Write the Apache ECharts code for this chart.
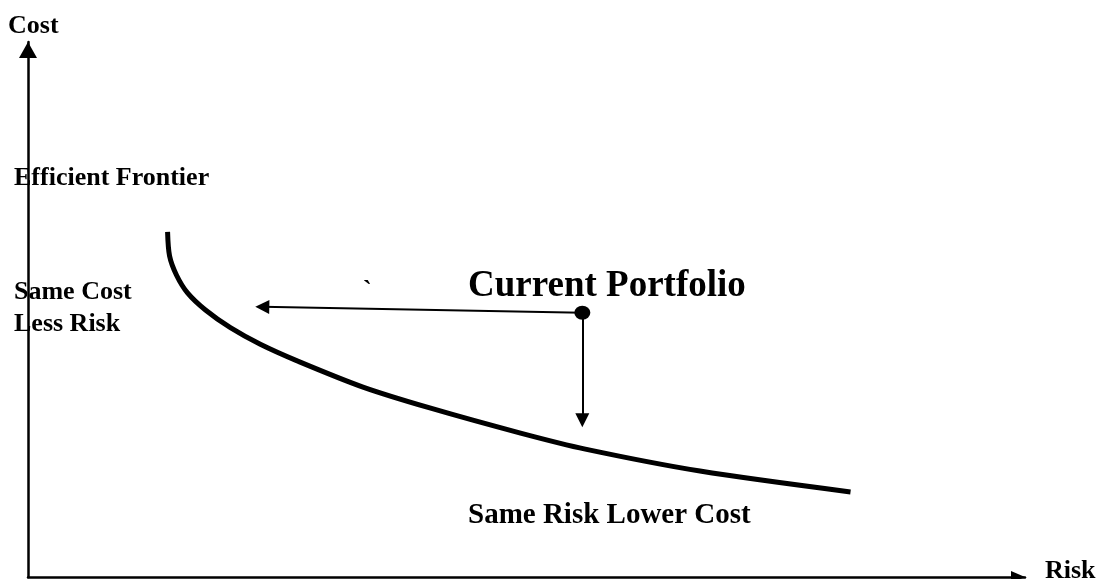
<!DOCTYPE html>
<html>
<head>
<meta charset="utf-8">
<script src="https://cdn.jsdelivr.net/npm/echarts@6/dist/echarts.min.js"></script>
<style>html,body{margin:0;padding:0;background:#fff}#c{width:1100px;height:579px}</style>
</head>
<body>
<div id="c"></div>
<script>
// Efficient frontier curve (risk, cost) in abstract 0-100 units
const frontierRisk = [14.0, 14.2, 14.9, 16.0, 17.8, 20.3, 23.3, 27.0, 33.6, 40.3, 49.4, 55.9, 67.4, 82.5];
const frontierCost = [64.5, 60.0, 56.4, 53.1, 49.9, 46.6, 43.5, 40.4, 35.5, 31.6, 26.9, 23.9, 19.8, 15.9];
// Current portfolio
const portfolio = [55.6, 49.4];
// Arrow targets (arrow-head centres)
const lessRiskTarget = [23.5, 50.5];
const lowerCostTarget = [55.6, 29.3];
// Labels
const axisLabels = { y: 'Cost', x: 'Risk' };
const annotations = ['Efficient Frontier', 'Same Cost', 'Less Risk', 'Current Portfolio', 'Same Risk Lower Cost', '`'];

const chart = echarts.init(document.getElementById('c'), null, { renderer: 'canvas' });
const font = 'Liberation Serif, Times New Roman, serif';
function txt(text, x, y, size) {
  return { type: 'text', left: x, top: y, style: { text: text, font: 'bold ' + size + 'px ' + font, fill: '#000' } };
}
const frontier = frontierRisk.map((r, i) => [r, frontierCost[i]]);

chart.setOption({
  animation: false,
  backgroundColor: '#fff',
  grid: { left: 28, right: 75, top: 42, bottom: 2, containLabel: false },
  xAxis: {
    type: 'value', min: 0, max: 100,
    axisLine: { show: true, onZero: false, symbol: ['none', 'triangle'], symbolSize: [12, 14], symbolOffset: [0, -7], lineStyle: { color: '#000', width: 2.5 } },
    axisTick: { show: false }, axisLabel: { show: false }, splitLine: { show: false }
  },
  yAxis: {
    type: 'value', min: 0, max: 100,
    axisLine: { show: true, onZero: false, symbol: ['none', 'triangle'], symbolSize: [18, 16], symbolOffset: [0, -8], lineStyle: { color: '#000', width: 2.5 } },
    axisTick: { show: false }, axisLabel: { show: false }, splitLine: { show: false }
  },
  series: [
    {
      type: 'line', data: frontier, smooth: 0.3, showSymbol: false,
      lineStyle: { color: '#000', width: 5 }
    },
    {
      type: 'lines', coordinateSystem: 'cartesian2d', symbol: ['none', 'triangle'], symbolSize: [13, 14],
      lineStyle: { color: '#000', width: 2, opacity: 1 },
      data: [
        { coords: [portfolio, lessRiskTarget] },
        { coords: [portfolio, lowerCostTarget] }
      ]
    },
    {
      type: 'scatter', data: [portfolio], symbol: 'circle', symbolSize: [16, 14],
      itemStyle: { color: '#000', opacity: 1 }, z: 5
    }
  ],
  graphic: [
    txt(axisLabels.y, 8, 13, 26),
    txt(axisLabels.x, 1045, 558, 26),
    txt(annotations[0], 14, 165, 26),
    txt(annotations[1], 14, 279, 26),
    txt(annotations[2], 14, 311, 26),
    txt(annotations[3], 468, 268, 37),
    txt(annotations[4], 468, 501, 29),
    txt(annotations[5], 363, 278, 26)
  ]
});
</script>
</body>
</html>
